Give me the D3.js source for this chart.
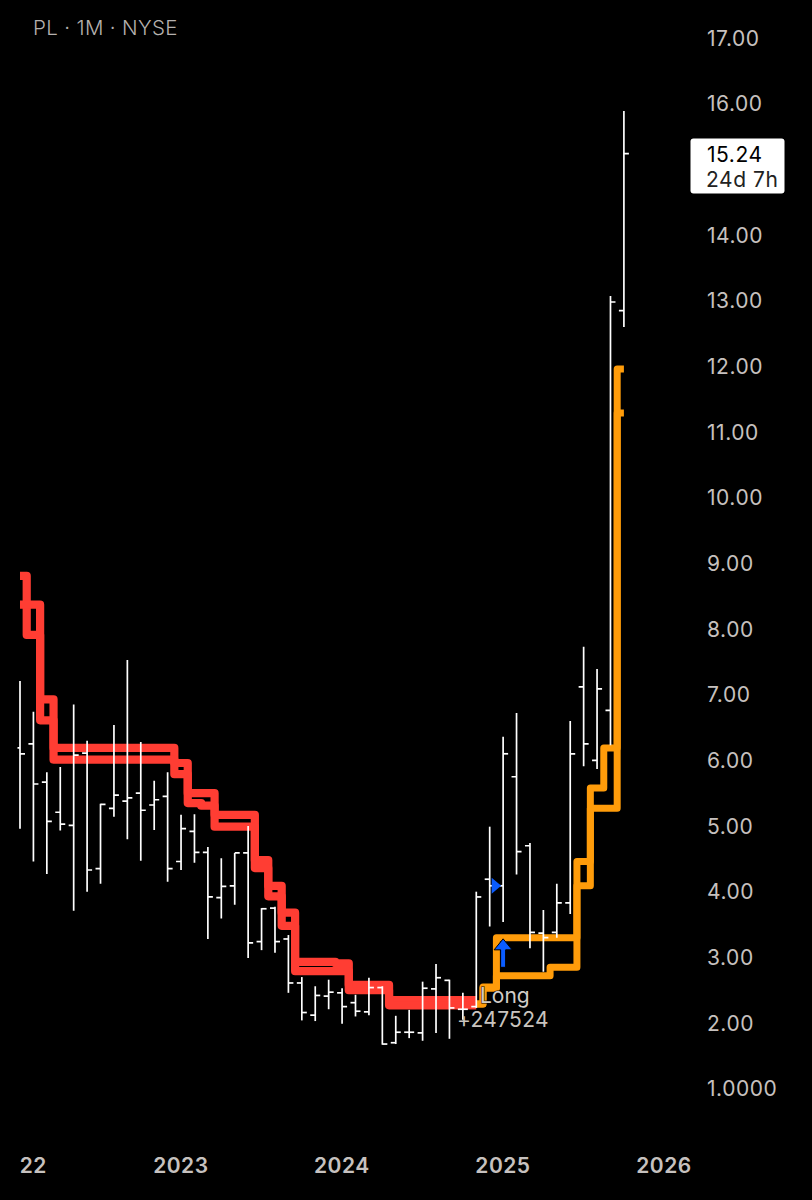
<!DOCTYPE html>
<html><head><meta charset="utf-8">
<style>html,body{margin:0;padding:0;background:#000}svg{display:block}text{font-family:Inter,Roboto,sans-serif}</style>
<script src="https://cdn.jsdelivr.net/npm/d3@7"></script>
</head><body><svg id="c" width="812" height="1200"></svg>
<script>
const opens=[6.19,6.25,5.67,5.21,5.01,6.11,4.35,5.27,5.38,5.50,5.32,5.45,4.46,4.92,4.60,3.91,4.09,4.59,3.24,3.75,3.28,2.61,2.12,2.41,2.46,2.31,2.17,2.54,1.70,1.86,1.85,2.52,2.65,2.21,2.25,4.19,4.09,5.75,4.70,3.37,3.38,3.83,7.12,6.00,6.76,12.85];
const highs=[7.21,6.74,5.82,5.90,6.85,6.30,5.34,6.54,7.53,6.28,5.69,5.82,5.17,5.18,4.68,4.51,4.59,5.00,3.75,3.77,3.34,2.70,2.56,2.66,2.53,2.43,2.69,2.56,2.11,2.20,2.63,2.90,2.66,2.46,4.00,4.99,6.36,6.72,4.74,3.72,4.12,6.60,7.73,7.39,13.07,15.89];
const lows=[4.96,4.46,4.27,4.93,3.71,4.00,4.12,5.14,4.80,4.47,4.94,4.15,4.33,4.44,3.28,3.59,3.80,2.99,3.11,3.07,2.46,2.04,2.03,2.21,1.99,2.10,2.12,1.67,1.68,1.77,1.73,1.85,1.76,2.05,2.23,3.47,3.54,4.26,3.14,2.78,3.30,3.66,5.91,5.87,6.23,12.60];
const closes=[6.10,5.64,5.07,5.03,6.08,4.33,5.33,5.47,5.43,5.24,5.40,4.35,4.96,4.60,3.92,4.08,4.59,3.22,3.74,3.24,2.61,2.16,2.42,2.47,2.25,2.18,2.54,1.68,1.86,1.86,2.53,2.69,2.23,2.21,3.92,4.09,6.10,4.61,3.38,3.30,3.83,6.10,6.25,7.09,12.98,15.24];
const redUpper=[8.81,7.91,6.61,6.19,6.19,6.19,6.19,6.19,6.19,6.19,6.19,6.19,5.96,5.50,5.50,5.17,5.17,5.17,4.48,4.09,3.68,2.93,2.93,2.93,2.91,2.58,2.58,2.58,2.35,2.35,2.35,2.35,2.35,2.35,2.35];
const redLower=[8.37,8.37,6.93,6.01,6.01,6.01,6.01,6.01,6.01,6.01,6.01,6.01,5.79,5.35,5.31,4.99,4.99,4.99,4.36,3.93,3.48,2.79,2.79,2.79,2.79,2.50,2.50,2.50,2.27,2.27,2.27,2.27,2.27,2.27,2.27];
const orangeStart=34;
const orangeUpper=[2.29,2.55,3.30,3.30,3.30,3.30,3.30,3.30,4.46,5.58,6.19,11.96];
const orangeLower=[2.29,2.53,2.72,2.72,2.72,2.72,2.85,2.85,4.09,5.27,5.27,11.29];
const priceTicks=[17,16,14,13,12,11,10,9,8,7,6,5,4,3,2,1];
const yearTicks=[1,12,24,36,48];
const yearLabels=["22","2023","2024","2025","2026"];
const title="PL · 1M · NYSE";
const lastPrice=15.24, countdown="24d 7h";
const tradeLabel="Long", tradeQty="+247524";
const tradeIndex=36, tradeValue=2.97, flagIndex=35, flagValue=4.09;

const svg=d3.select("#c");
svg.append("clipPath").attr("id","plot").append("rect").attr("x",17.5).attr("y",0).attr("width",670).attr("height",1130);
const plot=svg.append("g").attr("clip-path","url(#plot)");
const x=d3.scaleLinear().domain([0,45]).range([20,623.9]);
const y=d3.scaleLinear().domain([1,17]).range([1088.7,38]);
const step=d3.line().curve(d3.curveStep);
const RED="#ff3d33",ORANGE="#ff9c0a",BLUE="#0a5cff",LABEL="#c6c1bf";

function stepped(vals,start,color,w){
  plot.append("path")
    .attr("d",step(vals.map((v,i)=>[x(i+start),y(v)])))
    .attr("fill","none").attr("stroke",color).attr("stroke-width",w)
    .attr("stroke-linejoin","round").attr("stroke-linecap","butt");
}
stepped(redUpper,0,RED,8.2);
stepped(redLower,0,RED,8.2);
stepped(orangeUpper,orangeStart,ORANGE,7);
stepped(orangeLower,orangeStart,ORANGE,7);

const bars=plot.append("g").selectAll("g").data(d3.range(opens.length)).join("g").attr("stroke","#fff").attr("stroke-width",1.7);
bars.append("line").attr("x1",i=>x(i)).attr("x2",i=>x(i)).attr("y1",i=>y(highs[i])).attr("y2",i=>y(lows[i]));
bars.append("line").attr("x1",i=>x(i)-5).attr("x2",i=>x(i)).attr("y1",i=>y(opens[i])).attr("y2",i=>y(opens[i]));
bars.append("line").attr("x1",i=>x(i)).attr("x2",i=>x(i)+5).attr("y1",i=>y(closes[i])).attr("y2",i=>y(closes[i]));

// trade markers
svg.append("path").attr("transform",`translate(${x(flagIndex)+7},${y(flagValue)})`)
  .attr("d","M-5,-8L4.5,0L-5,8Z").attr("fill",BLUE);
svg.append("path").attr("transform",`translate(${x(tradeIndex)},${y(tradeValue)})`)
  .attr("d","M0,-20.5L9,-9.5L2.5,-9.5L2.5,8L-2.5,8L-2.5,-9.5L-9,-9.5Z")
  .attr("fill",BLUE).attr("stroke","#000").attr("stroke-width",1);

svg.append("text").attr("x",480).attr("y",1003).attr("font-size",21).attr("fill","#d2cdc8")
  .attr("stroke","#000").attr("stroke-width",1.5).attr("stroke-opacity",0.7).attr("paint-order","stroke").text(tradeLabel);
svg.append("text").attr("x",457).attr("y",1026.5).attr("font-size",21).attr("letter-spacing",0.3).attr("fill","#c9c4bf").text(tradeQty);

svg.append("text").attr("x",33).attr("y",35).attr("font-size",20.5).attr("font-weight",300).attr("letter-spacing",0.35).attr("fill","#b5b1af").text(title);

// price axis
const ay=svg.append("g").attr("transform","translate(707,0.5)")
  .call(d3.axisRight(y).tickValues(priceTicks).tickSize(0).tickPadding(0).tickFormat(v=>v===1?"1.0000":d3.format(".2f")(v)));
ay.select(".domain").remove();
ay.selectAll("text").attr("font-family","Inter").attr("font-size",21).attr("letter-spacing",0.55).attr("fill",LABEL);

// time axis
const ax=svg.append("g").attr("transform","translate(-0.7,1165)")
  .call(d3.axisBottom(x).tickValues(yearTicks).tickSize(0).tickPadding(0).tickFormat((d,i)=>yearLabels[i]));
ax.select(".domain").remove();
ax.selectAll("text").attr("dy","0.36em").attr("y",0).attr("font-family","Inter").attr("font-size",21).attr("font-weight",600).attr("letter-spacing",0.5).attr("fill",LABEL);

// last-price tag
svg.append("rect").attr("x",690.5).attr("y",y(lastPrice)-15).attr("width",94).attr("height",55).attr("rx",3).attr("fill","#fff");
svg.append("text").attr("x",707).attr("y",y(lastPrice)+8.5).attr("font-size",21).attr("letter-spacing",0.55).attr("fill","#000").text(d3.format(".2f")(lastPrice));
svg.append("text").attr("x",706).attr("y",y(lastPrice)+33.5).attr("font-size",21).attr("letter-spacing",0.55).attr("fill","#222").text(countdown);
</script></body></html>
